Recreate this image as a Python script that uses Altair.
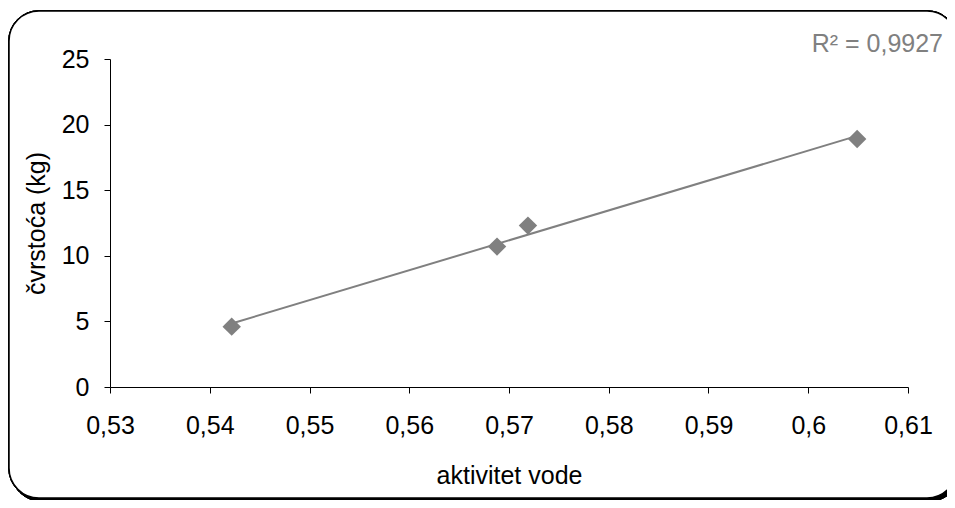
import altair as alt
import pandas as pd

# data
aw = [0.5422, 0.5688, 0.5719, 0.6049]
strength = [4.6, 10.7, 12.3, 18.9]
x_ticks = [0.53, 0.54, 0.55, 0.56, 0.57, 0.58, 0.59, 0.60, 0.61]
y_ticks = [0, 5, 10, 15, 20, 25]
r2_label = "R² = 0,9927"

df = pd.DataFrame({"aw": aw, "s": strength})

FONT = "Liberation Sans"
GRAY = "#808080"
FS = 25
W, H = 798, 328

x_enc = alt.X(
    "aw:Q",
    scale=alt.Scale(domain=[0.53, 0.61], nice=False, zero=False),
    axis=alt.Axis(
        title="aktivitet vode",
        values=x_ticks,
        labelExpr="replace(format(datum.value, '.2~f'), '.', ',')",
        grid=False,
        domainColor="#000000",
        tickColor="#000000",
        tickSize=6,
        labelFontSize=FS,
        titleFontSize=FS,
        labelPadding=20,
        titlePadding=25,
        labelColor="#000000",
        titleColor="#000000",
        titleFontWeight="normal",
        labelFlush=False,
        zindex=1,
    ),
)
y_enc = alt.Y(
    "s:Q",
    scale=alt.Scale(domain=[0, 25], nice=False),
    axis=alt.Axis(
        title="čvrstoća (kg)",
        values=y_ticks,
        format="d",
        grid=False,
        domainColor="#000000",
        tickColor="#000000",
        tickSize=6,
        labelFontSize=FS,
        titleFontSize=FS,
        labelPadding=15,
        titlePadding=12,
        labelColor="#000000",
        titleColor="#000000",
        titleFontWeight="normal",
        labelFlush=False,
        zindex=1,
    ),
)

base = alt.Chart(df)

shadow = base.mark_rect(
    fill="#000000", stroke="#000000", strokeWidth=1, cornerRadius=30
).encode(
    x=alt.value(-99), x2=alt.value(850), y=alt.value(-46), y2=alt.value(442)
)
border = base.mark_rect(
    fill="#ffffff", stroke="#000000", strokeWidth=1.5, cornerRadius=30
).encode(
    x=alt.value(-101), x2=alt.value(847), y=alt.value(-48), y2=alt.value(439)
)

trend = base.transform_regression("aw", "s").mark_line(
    color=GRAY, strokeWidth=2
).encode(x=x_enc, y=y_enc)

points = base.mark_point(
    shape="diamond", filled=True, color=GRAY, size=340, opacity=1
).encode(x=x_enc, y=y_enc)

r2 = alt.Chart(pd.DataFrame({"t": [r2_label]})).mark_text(
    align="right", baseline="alphabetic", font=FONT, fontSize=FS, color=GRAY
).encode(text="t:N", x=alt.value(833), y=alt.value(-7))

chart = alt.layer(shadow, border, trend, points, r2).properties(
    width=W,
    height=H,
    autosize=alt.AutoSizeParams(type="none"),
    padding={"left": 102, "top": 51, "right": 39, "bottom": 113},
).configure(font=FONT).configure_view(stroke=None)

chart.save("out.html", embed_options={"renderer": "svg", "actions": False})
